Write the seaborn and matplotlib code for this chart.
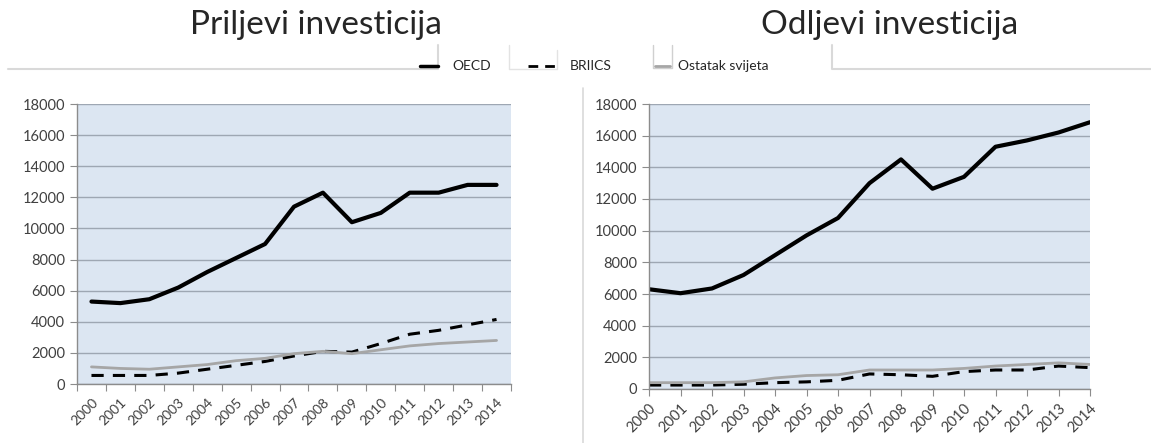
import pandas as pd
import numpy as np
import matplotlib
matplotlib.use('Agg')
import matplotlib.pyplot as plt
import seaborn as sns
from matplotlib.lines import Line2D

# %%
godine = [str(g) for g in range(2000, 2015)]

# Priljevi investicija
prilj_oecd = [5300, 5200, 5450, 6200, 7200, 8100, 9000, 11400, 12300, 10400, 11000, 12300, 12300, 12800, 12800]
prilj_briics = [550, 550, 550, 700, 950, 1200, 1450, 1800, 2100, 2050, 2600, 3200, 3450, 3800, 4150]
prilj_ostatak = [1100, 1000, 950, 1100, 1250, 1500, 1650, 1950, 2100, 1950, 2200, 2450, 2600, 2700, 2800]

# Odljevi investicija
odlj_oecd = [6300, 6050, 6350, 7200, 8450, 9700, 10800, 13000, 14500, 12650, 13400, 15300, 15700, 16200, 16850]
odlj_briics = [250, 250, 250, 300, 400, 450, 550, 950, 900, 800, 1100, 1200, 1200, 1450, 1350]
odlj_ostatak = [400, 400, 400, 450, 700, 850, 900, 1200, 1200, 1200, 1300, 1450, 1550, 1650, 1550]

serije = ['OECD', 'BRIICS', 'Ostatak svijeta']
boje = {'OECD': 'black', 'BRIICS': 'black', 'Ostatak svijeta': '#a6a6a6'}
debljine = {'OECD': 3.0, 'BRIICS': 2.2, 'Ostatak svijeta': 2.0}
crte = {'OECD': '-', 'BRIICS': (0, (4, 3)), 'Ostatak svijeta': '-'}

# %%
sns.set_style('white')
plt.rcParams['font.family'] = ['Lato', 'DejaVu Sans']

W, H = 1151, 443
fig = plt.figure(figsize=(W / 100, H / 100), dpi=100)
ax1 = fig.add_axes([77 / W, 1 - 384 / H, 434 / W, 280 / H])
ax2 = fig.add_axes([649 / W, 1 - 389 / H, 441 / W, 285 / H])


def crtaj(ax, podaci, izmedju):
    df = pd.DataFrame(podaci, index=godine)
    df['x'] = np.arange(len(godine))
    for s in serije:
        sns.lineplot(data=df, x='x', y=s, ax=ax, color=boje[s], linewidth=debljine[s],
                     linestyle=crte[s], legend=False)
    ax.set_facecolor('#dce6f2')
    ax.set_ylim(0, 18000)
    ax.set_yticks(range(0, 18001, 2000))
    ax.yaxis.grid(True, color='#9ea7b3', linewidth=1.0)
    ax.set_axisbelow(True)
    for sp in ['top', 'right']:
        ax.spines[sp].set_visible(False)
    for sp in ['left', 'bottom']:
        ax.spines[sp].set_color('#8c8c8c')
        ax.spines[sp].set_linewidth(1.0)
    n = len(godine)
    if izmedju:
        ax.set_xlim(-0.5, n - 0.5)
        ax.set_xticks(np.arange(-0.5, n, 1.0))
        ax.set_xticklabels([])
        ax.set_xticks(np.arange(n), minor=True)
        ax.set_xticklabels(godine, minor=True, rotation=45, ha='right', rotation_mode='anchor',
                           fontsize=10, color='#404040')
        ax.tick_params(axis='x', which='minor', length=0, pad=9)
    else:
        ax.set_xlim(0, n - 1)
        ax.set_xticks(np.arange(n))
        ax.set_xticklabels(godine, rotation=45, ha='right', rotation_mode='anchor',
                           fontsize=10.5, color='#404040')
    ax.tick_params(axis='x', which='major', length=5, color='#8c8c8c', bottom=True)
    ax.tick_params(axis='y', length=5, color='#8c8c8c', left=True, labelsize=10.5,
                   labelcolor='#404040')
    ax.set_xlabel('')
    ax.set_ylabel('')


crtaj(ax1, {'OECD': prilj_oecd, 'BRIICS': prilj_briics, 'Ostatak svijeta': prilj_ostatak}, True)
crtaj(ax2, {'OECD': odlj_oecd, 'BRIICS': odlj_briics, 'Ostatak svijeta': odlj_ostatak}, False)

fig.text(316 / W, 1 - 25 / H, 'Priljevi investicija', ha='center', va='center', fontsize=24)
fig.text(890 / W, 1 - 25 / H, 'Odljevi investicija', ha='center', va='center', fontsize=24)


def px_linija(xs, ys, **kw):
    fig.add_artist(Line2D([x / W for x in xs], [1 - y / H for y in ys], **kw))


# ukrasne linije (okviri legende)
siva = '#d9d9d9'
px_linija([8, 438, 438], [69, 69, 45], color=siva, lw=1.5)
px_linija([509, 509, 557, 557], [45, 69, 69, 50], color='#e3e3e3', lw=1.0)
px_linija([653, 653, 672, 672], [45, 68, 68, 45], color='#d0d0d0', lw=1.0)
px_linija([832, 832, W], [45, 69, 69], color=siva, lw=1.5)
px_linija([583, 583], [88, H], color=siva, lw=1.2)

# legenda
ly = 66
px_linija([420, 438], [ly, ly], color='black', lw=2.5)
fig.text(452 / W, 1 - ly / H, 'OECD', ha='left', va='center', fontsize=10)
px_linija([528, 557], [ly, ly], color='black', lw=2.0, linestyle=(0, (3.5, 2.5)))
fig.text(570 / W, 1 - ly / H, 'BRIICS', ha='left', va='center', fontsize=10)
px_linija([655, 670], [ly, ly], color='#a6a6a6', lw=2.0)
fig.text(678 / W, 1 - ly / H, 'Ostatak svijeta', ha='left', va='center', fontsize=10)

fig.savefig('out.png', dpi=100)
